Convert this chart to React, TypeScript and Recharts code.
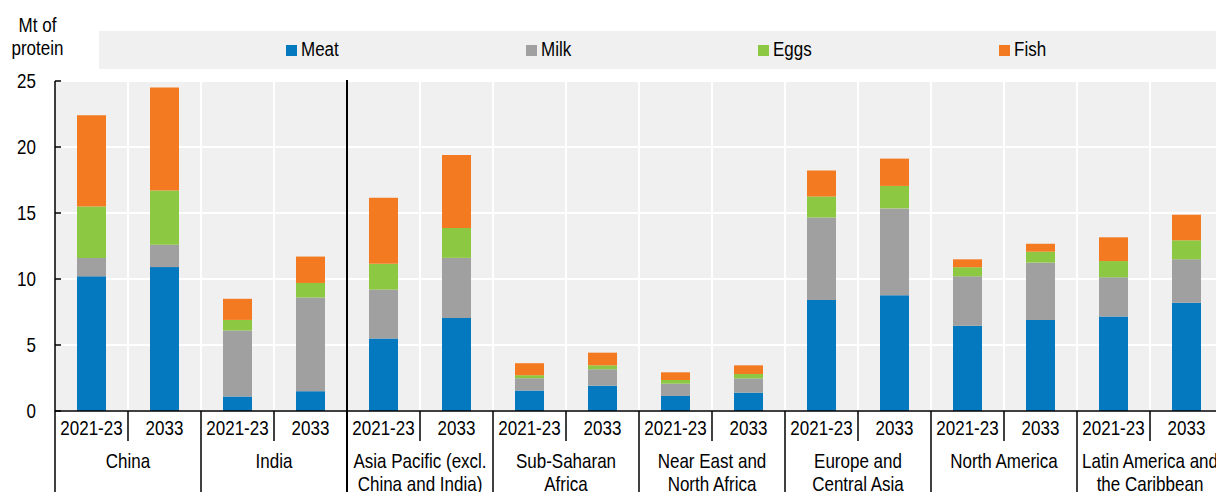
import React from 'react';
import { BarChart, Bar, XAxis, YAxis, CartesianGrid } from 'recharts';

// categories
const regions = [
  ['China'],
  ['India'],
  ['Asia Pacific (excl.', 'China and India)'],
  ['Sub-Saharan', 'Africa'],
  ['Near East and', 'North Africa'],
  ['Europe and', 'Central Asia'],
  ['North America'],
  ['Latin America and', 'the Caribbean'],
];
const periods = ['2021-23', '2033'];

// Mt of protein, two bars per region (2021-23, 2033)
const meat = [10.2, 10.9, 1.1, 1.5, 5.5, 7.05, 1.55, 1.92, 1.14, 1.39, 8.4, 8.76, 6.46, 6.89, 7.15, 8.2];
const milk = [1.4, 1.7, 5.0, 7.1, 3.7, 4.55, 0.93, 1.24, 0.93, 1.08, 6.26, 6.59, 3.74, 4.35, 2.98, 3.29];
const eggs = [3.9, 4.1, 0.8, 1.1, 1.95, 2.27, 0.23, 0.3, 0.28, 0.33, 1.59, 1.7, 0.69, 0.83, 1.23, 1.44];
const fish = [6.9, 7.8, 1.6, 2.0, 5.0, 5.53, 0.91, 0.96, 0.58, 0.66, 1.97, 2.07, 0.6, 0.6, 1.8, 1.94];

const yTicks = [0, 5, 10, 15, 20, 25];

const series = [
  { key: 'meat', name: 'Meat', color: '#0479c0', left: 286 },
  { key: 'milk', name: 'Milk', color: '#a0a0a0', left: 526 },
  { key: 'eggs', name: 'Eggs', color: '#8cc841', left: 758 },
  { key: 'fish', name: 'Fish', color: '#f47a21', left: 999 },
];

const data = meat.map((m, i) => ({
  id: String(i),
  period: periods[i % 2],
  meat: m,
  milk: milk[i],
  eggs: eggs[i],
  fish: fish[i],
}));

const FONT = "'Liberation Sans', Arial, sans-serif";
const FS = 20;
const NARROW = 0.85;
const CHART_W = 1240;
const CHART_H = 492;
const PLOT_LEFT = 55;
const PLOT_TOP = 81;
const AXIS_Y = 411;
const PLOT_W = 1168;
const SLOT = PLOT_W / data.length;

// condensed text, the original uses a narrow face
const NText = ({ x, y, anchor, children }: any) => (
  <text
    transform={`translate(${x},${y}) scale(${NARROW},1)`}
    textAnchor={anchor}
    fontSize={FS}
    fill="#000"
    fontFamily={FONT}
  >
    {children}
  </text>
);

const XTick = (props: any) => {
  const { x, index } = props;
  const left = x - SLOT / 2;
  const isFirst = index % 2 === 0;
  const lines = isFirst ? regions[index / 2] : null;
  return (
    <g>
      <NText x={x} y={435} anchor="middle">
        {periods[index % 2]}
      </NText>
      {isFirst ? (
        <line x1={left} x2={left} y1={index === 4 ? PLOT_TOP - 1 : AXIS_Y} y2={CHART_H} stroke="#000" strokeWidth={index === 4 ? 2 : 1.5} />
      ) : (
        <line x1={left} x2={left} y1={AXIS_Y} y2={441} stroke="#000" strokeWidth={1.5} />
      )}
      {lines &&
        lines.map((l, k) => (
          <NText key={k} x={x + SLOT / 2} y={468 + k * 23} anchor="middle">
            {l}
          </NText>
        ))}
    </g>
  );
};

const YTick = (props: any) => {
  const { y, payload } = props;
  return (
    <g>
      <NText x={36} y={y + 7} anchor="end">
        {payload.value}
      </NText>
      <line x1={PLOT_LEFT} x2={PLOT_LEFT + 6} y1={y} y2={y} stroke="#000" strokeWidth={1.5} />
    </g>
  );
};

const narrowStyle = (origin: string): React.CSSProperties => ({
  transform: `scaleX(${NARROW})`,
  transformOrigin: origin,
});

export default function App() {
  return (
    <div
      style={{
        position: 'fixed',
        left: 0,
        top: 0,
        width: 1216,
        height: 492,
        overflow: 'hidden',
        background: '#fff',
        fontFamily: FONT,
        color: '#000',
      }}
    >
      <div
        style={{
          position: 'absolute',
          left: 0,
          top: 14,
          width: 75,
          textAlign: 'center',
          fontSize: FS,
          lineHeight: '23px',
          ...narrowStyle('center'),
        }}
      >
        Mt of
        <br />
        protein
      </div>
      <div style={{ position: 'absolute', left: 99, top: 31, width: 1117, height: 38, background: '#f0f0f0' }} />
      {series.map((s) => (
        <React.Fragment key={s.key}>
          <div style={{ position: 'absolute', left: s.left, top: 45, width: 11, height: 11, background: s.color }} />
          <div
            style={{
              position: 'absolute',
              left: s.left + 15,
              top: 39,
              fontSize: FS,
              lineHeight: '20px',
              whiteSpace: 'nowrap',
              ...narrowStyle('left'),
            }}
          >
            {s.name}
          </div>
        </React.Fragment>
      ))}
      <div style={{ position: 'absolute', left: 0, top: 0 }}>
        <BarChart
          width={CHART_W}
          height={CHART_H}
          data={data}
          margin={{ top: PLOT_TOP, right: CHART_W - PLOT_LEFT - PLOT_W, bottom: 0, left: 0 }}
          barSize={29}
        >
          <CartesianGrid
            fill="#f0f0f0"
            stroke="#ffffff"
            strokeWidth={2}
            verticalCoordinatesGenerator={({ offset }: any) =>
              data.slice(1).map((_, i) => offset.left + ((i + 1) * offset.width) / data.length)
            }
          />
          {series.map((s) => (
            <Bar key={s.key} dataKey={s.key} name={s.name} stackId="a" fill={s.color} isAnimationActive={false} />
          ))}
          <XAxis
            dataKey="id"
            height={CHART_H - AXIS_Y}
            interval={0}
            tickLine={false}
            axisLine={{ stroke: '#000', strokeWidth: 1.5 }}
            tick={<XTick />}
          />
          <YAxis
            width={PLOT_LEFT}
            domain={[0, 25]}
            ticks={yTicks}
            interval={0}
            tickLine={false}
            axisLine={{ stroke: '#000', strokeWidth: 1.5 }}
            tick={<YTick />}
          />
        </BarChart>
      </div>
    </div>
  );
}
